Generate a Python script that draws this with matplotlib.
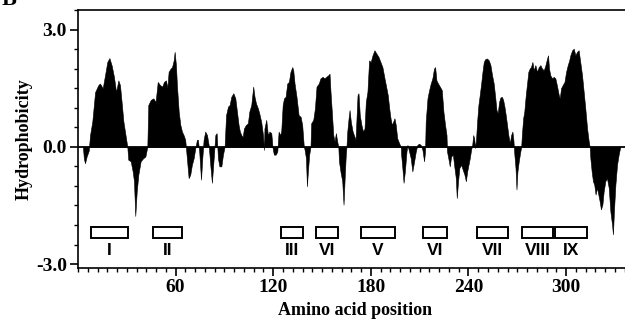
import matplotlib
matplotlib.use("Agg")
import matplotlib.pyplot as plt
from matplotlib.patches import Rectangle
from matplotlib.ticker import MultipleLocator, FixedLocator

# hydropathy profile (residue position, value)
positions = [
    3.0, 3.6, 4.3, 5.3, 6.6, 7.4, 8.8, 10.5, 12.5, 13.5, 15.2, 16.6, 18.0, 19.3,
    20.7, 22.1, 23.4, 24.8, 25.8, 26.8, 27.9, 29.5, 30.3, 30.9, 32.4, 33.6, 34.4,
    35.2, 36.1, 37.1, 38.5, 40.1, 41.4, 42.6, 43.2, 44.7, 46.3, 47.7, 49.0, 50.4,
    51.8, 52.8, 54.1, 54.9, 55.7, 56.9, 57.8, 58.8, 59.4, 60.2, 60.8, 61.9, 62.9,
    63.9, 64.9, 65.9, 66.3, 66.9, 68.0, 69.0, 70.0, 71.1, 72.1, 73.1, 73.7, 74.5,
    75.6, 76.4, 77.2, 78.2, 79.3, 80.3, 81.3, 82.3, 83.4, 84.4, 85.2, 86.0, 86.9,
    88.1, 89.1, 90.1, 91.0, 92.2, 93.2, 94.2, 95.5, 96.7, 97.7, 98.7, 99.5, 100.4,
    101.2, 102.0, 103.2, 104.4, 105.3, 106.5, 107.7, 108.5, 109.4, 110.6, 111.4,
    112.6, 113.7, 114.3, 114.6, 115.7, 116.7, 117.7, 118.8, 119.6, 120.4, 121.5,
    122.5, 123.3, 124.1, 124.9, 125.8, 126.6, 127.6, 128.6, 129.6, 130.6, 131.7,
    132.3, 133.1, 134.3, 135.6, 136.8, 137.8, 138.4, 138.8, 139.3, 140.1, 140.7,
    141.3, 142.1, 142.9, 143.3, 144.6, 145.6, 146.6, 148.0, 149.0, 150.3, 151.5,
    152.5, 153.8, 154.6, 155.2, 156.0, 156.9, 157.7, 158.5, 159.3, 160.0, 160.4,
    161.3, 162.4, 163.2, 164.0, 164.6, 165.0, 165.5, 166.3, 166.9, 167.7, 168.8,
    169.6, 170.6, 171.8, 172.4, 173.2, 174.2, 175.2, 176.1, 176.9, 177.9, 178.9,
    179.9, 181.0, 182.2, 183.5, 184.7, 185.9, 187.1, 188.4, 189.2, 190.4, 191.3,
    192.1, 192.9, 193.7, 194.5, 195.3, 196.2, 197.4, 198.4, 198.6, 199.2, 200.1,
    200.9, 201.9, 202.5, 203.5, 204.5, 205.5, 206.6, 207.6, 208.6, 209.6, 210.6,
    211.7, 212.7, 213.3, 213.7, 214.8, 215.8, 216.8, 217.8, 218.8, 219.5, 220.3,
    221.3, 222.4, 223.6, 224.6, 225.6, 226.5, 226.8, 227.6, 228.5, 229.3, 230.4,
    231.4, 232.2, 232.8, 233.6, 234.4, 235.5, 236.5, 237.5, 238.4, 239.2, 240.0,
    240.8, 241.6, 242.3, 242.9, 243.5, 244.1, 244.7, 245.3, 246.1, 246.9, 247.8,
    248.6, 249.4, 250.2, 251.4, 252.5, 253.5, 254.5, 255.5, 256.4, 257.2, 258.0,
    258.8, 259.6, 260.5, 261.3, 262.1, 262.9, 263.7, 264.5, 265.4, 266.2, 267.0,
    267.6, 268.2, 268.9, 269.5, 270.1, 270.9, 271.7, 272.4, 272.8, 273.6, 274.3,
    275.2, 276.0, 276.8, 277.6, 278.4, 279.3, 280.1, 281.1, 282.1, 283.2, 284.2,
    285.2, 286.3, 287.3, 288.3, 288.9, 289.5, 290.3, 291.4, 292.4, 293.4, 294.5,
    295.5, 296.1, 296.9, 297.9, 299.0, 300.0, 301.0, 301.9, 302.6, 303.7, 304.7,
    305.7, 306.7, 307.7, 308.7, 309.8, 310.8, 311.8, 312.9, 313.9, 314.5, 314.9,
    315.7, 316.5, 317.3, 318.1, 319.0, 319.8, 320.6, 321.4, 322.3, 323.1, 324.1,
    325.1, 326.2, 327.2, 328.2, 328.8, 329.4, 330.3, 331.3, 332.3, 332.9, 333.3,
]
hydro = [
    0.0, -0.3, -0.42, -0.25, -0.1, 0.3, 0.65, 1.4, 1.58, 1.62, 1.5, 1.83, 2.17, 2.27,
    2.08, 1.79, 1.4, 1.7, 1.58, 1.15, 0.65, 0.22, 0.0, -0.33, -0.37, -0.63, -0.88,
    -1.77, -1.14, -0.71, -0.37, -0.29, -0.25, 0.0, 1.07, 1.2, 1.24, 1.15, 1.66, 1.58,
    1.54, 1.66, 1.7, 1.5, 1.92, 2.0, 2.04, 2.21, 2.43, 2.09, 1.58, 0.9, 0.56,
    0.39, 0.3, 0.18, 0.0, -0.29, -0.8, -0.71, -0.46, -0.29, -0.03, 0.18, 0.18, -0.12,
    -0.84, -0.29, 0.18, 0.39, 0.3, 0.05, -0.46, -0.92, -0.29, 0.3, 0.35, -0.29, -0.5,
    -0.5, -0.2, 0.0, 0.81, 1.03, 1.07, 1.28, 1.37, 1.24, 0.9, 0.56, 0.39, 0.3,
    0.25, 0.47, 0.56, 0.6, 0.9, 1.07, 1.54, 1.28, 1.11, 0.98, 0.86,
    0.64, 0.3, -0.08, 0.47, 0.69, 0.3, 0.39, 0.35, -0.03, -0.2, -0.2,
    -0.12, 0.39, 0.3, 0.39, 1.07, 1.24, 1.28, 1.62, 1.66, 1.92, 2.04,
    1.96, 1.62, 1.28, 0.81, 0.77, 0.56, 0.22, 0.0, -0.08, -0.29, -1.01,
    -0.63, -0.2, 0.0, 0.6, 0.69, 0.98, 1.54, 1.62, 1.75, 1.79, 1.75,
    1.79, 1.83, 1.87, 1.41, 0.9, 0.3, 0.14, 0.35, 0.14, 0.0, -0.37,
    -0.63, -0.88, -1.48, -0.71, -0.2, 0.0, 0.39, 0.73, 0.94, 0.64, 0.39,
    0.3, 0.18, 1.32, 1.37, 0.81, 0.56, 0.39, 0.47, 1.15, 1.41, 2.21,
    2.17, 2.34, 2.47, 2.38, 2.3, 2.17, 2.04, 1.75, 1.58, 1.32, 0.98,
    0.73, 0.56, 0.64, 0.73, 0.56, 0.22, 0.09, 0.0, -0.2, -0.46, -0.92,
    -0.63, -0.12, 0.05, -0.12, -0.29, -0.63, -0.37, -0.12, 0.05, 0.08, 0.05,
    -0.08, -0.37, -0.12, 0.64, 1.24, 1.45, 1.62, 1.75, 2.0, 2.04, 1.7,
    1.62, 1.54, 1.45, 0.9, 0.56, 0.3, -0.12, -0.29, -0.5, -0.25, -0.2,
    -0.54, -0.8, -1.31, -0.88, -0.54, -0.46, -0.59, -0.71, -0.88, -0.63, -0.46,
    -0.29, -0.08, 0.05, 0.3, 0.22, -0.03, 0.22, 0.64, 1.07, 1.32, 1.62,
    1.92, 2.17, 2.24, 2.26, 2.21, 2.09, 1.83, 1.62, 1.28, 0.94, 0.86,
    1.15, 1.26, 1.28, 1.2, 1.03, 0.81, 0.56, 0.3, 0.09, 0.3, 0.39,
    0.18, -0.2, -0.54, -1.09, -0.63, -0.37, -0.16, 0.0, 0.3, 0.73, 0.9,
    1.32, 1.62, 1.92, 2.0, 2.04, 2.17, 1.96, 2.09, 1.92, 2.04, 2.09,
    2.0, 1.96, 2.09, 2.26, 2.34, 2.0, 1.83, 1.75, 1.79, 1.75, 1.54,
    1.32, 1.24, 1.5, 1.58, 1.66, 1.92, 2.09, 2.21, 2.34, 2.47, 2.51,
    2.34, 2.43, 2.47, 2.17, 1.83, 1.41, 0.98, 0.47, 0.14, 0.0, -0.29,
    -0.63, -0.88, -0.97, -1.22, -1.05, -1.22, -1.39, -1.6, -1.48, -1.14, -0.88,
    -0.8, -1.05, -1.65, -1.98, -2.24, -1.65, -0.97, -0.46, -0.2, -0.08, 0.0,
]

# predicted transmembrane segments
tm_start = [8, 46, 125, 146, 174, 212, 245, 273, 293]
tm_end = [31, 64, 138, 160, 195, 227, 264, 292, 313]
tm_labels = ["I", "II", "III", "VI", "V", "VI", "VII", "VIII", "IX"]

serif = "Liberation Serif"

fig = plt.figure(figsize=(6.25, 3.33), dpi=100)
ax = fig.add_axes([78 / 625, 1 - 268 / 333, (632 - 78) / 625, (268 - 10) / 333])

ax.fill_between(positions, hydro, 0, color="black", linewidth=0.4, edgecolor="black")
ax.axhline(0, color="black", lw=1.3, zorder=3)

# TM boxes and labels
for s, e, lab in zip(tm_start, tm_end, tm_labels):
    ax.add_patch(Rectangle((s, -2.33), e - s, 0.28, facecolor="white",
                           edgecolor="black", lw=1.4))
    ax.text((s + e) / 2, -2.66, lab, ha="center", va="center", fontsize=12.5,
            fontweight="bold", fontstretch="condensed",
            family=["Liberation Sans Narrow", "Liberation Sans", "DejaVu Sans"])

ax.set_xlim(0, 340.5)
ax.set_ylim(-3.1, 3.5)

ax.xaxis.set_major_locator(FixedLocator([60, 120, 180, 240, 300]))
ax.xaxis.set_minor_locator(MultipleLocator(6))
ax.yaxis.set_major_locator(FixedLocator([-3, 0, 3]))
ax.yaxis.set_minor_locator(MultipleLocator(0.5))
ax.set_yticklabels(["-3.0", "0.0", "3.0"])

ax.tick_params(which="major", direction="out", length=6, width=1.2,
               labelsize=14, pad=2)
ax.tick_params(which="minor", direction="out", length=3, width=1.0)
for lbl in ax.get_xticklabels() + ax.get_yticklabels():
    lbl.set_family(serif)
    lbl.set_fontweight("bold")

for sp in ax.spines.values():
    sp.set_linewidth(1.2)

ax.set_xlabel("Amino acid position", family=serif, fontweight="bold",
              fontsize=13, labelpad=4)
ax.set_ylabel("Hydrophobicity", family=serif, fontweight="bold",
              fontsize=13, labelpad=2)

# panel letter, cut off at the top edge like in the source figure
fig.text(0.003, 0.985, "B", family=serif, fontweight="bold", fontsize=16,
         va="baseline", ha="left")

fig.savefig("out.png", dpi=100)
